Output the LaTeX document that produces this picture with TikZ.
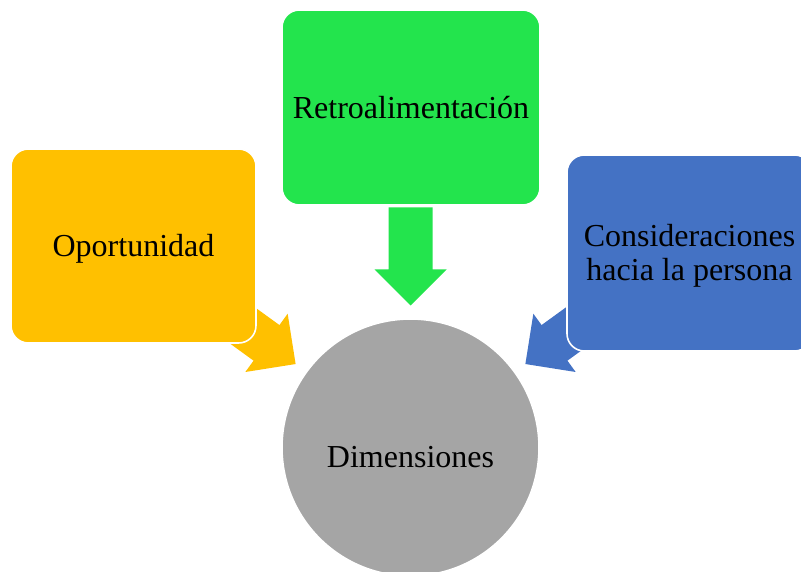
\documentclass[tikz,border=0pt]{standalone}
\usepackage{fontspec}
\setmainfont{Liberation Serif}
\usetikzlibrary{calc}

\begin{document}
\begin{tikzpicture}[
        x=0.75pt,
        y=0.75pt,
        dimbox/.style={
            rectangle,
            rounded corners=13pt,
            draw=white,
            line width=1.2pt,
            inner sep=0pt,
            align=center,
            font=\fontsize{24}{25}\selectfont,
            text height=15.9pt,
            text depth=0pt
          },
        dimcircle/.style={
            circle,
            draw=white,
            line width=1.2pt,
            inner sep=0pt,
            minimum size=192.75pt
          }]
        % Define colors
        \definecolor{oporcolor}{HTML}{FFC000}  % yellow
        \definecolor{retrocolor}{RGB}{35,228,77} % green
        \definecolor{conscolor}{HTML}{4472C4}  % blue
        \definecolor{dimcolor}{HTML}{A5A5A5}   % gray

        % Page frame
        \clip (0,0) rectangle (801,572);

        % Central circle
        \node[dimcircle, fill=dimcolor] (dim) at (410.5,124.5) {};
        \node[font=\fontsize{24}{25}\selectfont, text height=15.9pt, text depth=0pt]
            (dimlabel) at ($(dim.center)+(0,-9)$) {Dimensiones};

        % Block arrows towards the circle
        \begin{scope}[shift={($(dim.center)+(90:142)$)}, rotate=270]
            \fill[retrocolor] (0,0) -- (-36,36) -- (-36,22) -- (-98,22)
                -- (-98,-22) -- (-36,-22) -- (-36,-36) -- cycle;
        \end{scope}
        \begin{scope}[shift={($(dim.center)+(144:142)$)}, rotate=324]
            \fill[oporcolor] (0,0) -- (-36,36) -- (-36,22) -- (-98,22)
                -- (-98,-22) -- (-36,-22) -- (-36,-36) -- cycle;
        \end{scope}
        \begin{scope}[shift={($(dim.center)+(36:142)$)}, rotate=216]
            \fill[conscolor] (0,0) -- (-36,36) -- (-36,22) -- (-98,22)
                -- (-98,-22) -- (-36,-22) -- (-36,-36) -- cycle;
        \end{scope}

        % Boxes
        \node[dimbox, fill=retrocolor, minimum width=193.5pt, minimum height=146.25pt]
            (retro) at (411,464.5) {Retroalimentación};
        \node[dimbox, fill=oporcolor, minimum width=183.75pt, minimum height=145.5pt]
            (opor) at (133.5,326) {Oportunidad};
        \node[dimbox, fill=conscolor, minimum width=183.75pt, minimum height=147pt,
            text height=40.9pt]
            (cons) at (689.5,319) {Consideraciones\\hacia la persona};
    \end{tikzpicture}
\end{document}
